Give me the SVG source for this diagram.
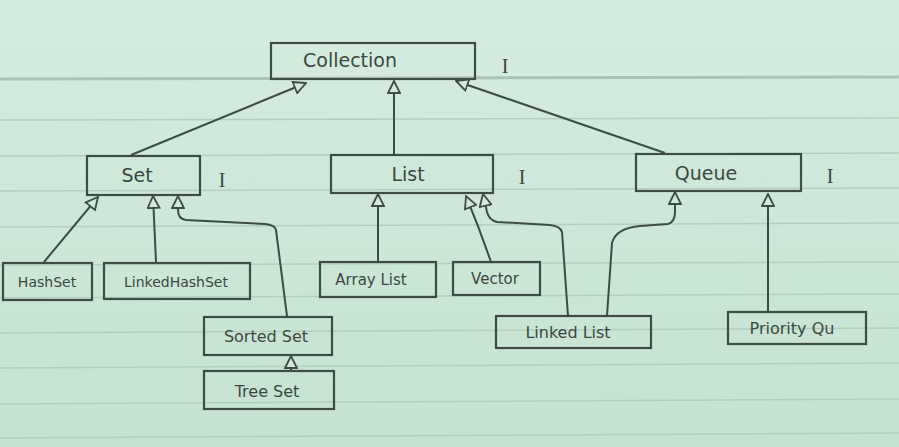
<svg xmlns="http://www.w3.org/2000/svg" width="899" height="447" viewBox="0 0 899 447">
<defs>
<linearGradient id="bg" x1="0" y1="0" x2="0" y2="1">
<stop offset="0" stop-color="#d6ece0"/>
<stop offset="1" stop-color="#c6e2d0"/>
</linearGradient>
<marker id="tri" viewBox="0 0 14 14" refX="13" refY="7" markerWidth="14" markerHeight="14" markerUnits="userSpaceOnUse" orient="auto">
<path d="M1,1 L13,7 L1,13 Z" fill="#d2e9db" stroke="#3e4c46" stroke-width="1.8"/>
</marker>
<style>
.box{fill:none;stroke:#3e4c46;stroke-width:2.2}
.t{font-family:"DejaVu Sans","Liberation Sans",sans-serif;fill:#3a4842;font-size:17px}
.i{font-family:"Liberation Serif",serif;fill:#3a4842;font-size:20px}
.c{fill:none;stroke:#3e4c46;stroke-width:2;marker-end:url(#tri)}
.rule{stroke:#b4cfbf;stroke-width:1.5}
</style>
</defs>
<rect width="899" height="447" fill="url(#bg)"/>
<g id="rules">
<line class="rule" x1="0" y1="79" x2="899" y2="77" style="stroke:#a9c4b4;stroke-width:3"/>
<line class="rule" x1="0" y1="120" x2="899" y2="118"/>
<line class="rule" x1="0" y1="156" x2="899" y2="153"/>
<line class="rule" x1="0" y1="191" x2="899" y2="188"/>
<line class="rule" x1="0" y1="227" x2="899" y2="223"/>
<line class="rule" x1="0" y1="265" x2="899" y2="262"/>
<line class="rule" x1="0" y1="298" x2="899" y2="294"/>
<line class="rule" x1="0" y1="333" x2="899" y2="328"/>
<line class="rule" x1="0" y1="368" x2="899" y2="363"/>
<line class="rule" x1="0" y1="404" x2="899" y2="399"/>
<line class="rule" x1="0" y1="438" x2="899" y2="433"/>
</g>
<g id="connectors">
<path class="c" d="M131,155 L306,83"/>
<path class="c" d="M394,155 L394,81"/>
<path class="c" d="M665,153 L456,81"/>
<path class="c" d="M44,262 L98,197"/>
<path class="c" d="M156,262 L153,196"/>
<path class="c" d="M287,316 L276,230 Q275,225 265,224 L186,220 Q178,219 178,210 L178,196"/>
<path class="c" d="M291,370 L291,356"/>
<path class="c" d="M378,262 L378,194"/>
<path class="c" d="M491,262 Q480,230 466,196"/>
<path class="c" d="M568,316 L562,232 Q560,226 550,225 L497,222 Q489,220 487,212 L483,194"/>
<path class="c" d="M607,316 L612,243 Q616,228 640,226 L668,224 Q675,222 675,212 L675,192"/>
<path class="c" d="M768,311 L768,194"/>
</g>
<g id="collection">
<rect class="box" x="271" y="43" width="204" height="36"/>
<text class="t" x="350" y="67" text-anchor="middle" style="font-size:19px">Collection</text>
<text class="i" x="505" y="73" text-anchor="middle">I</text>
</g>
<g id="set">
<rect class="box" x="87" y="156" width="113" height="39"/>
<text class="t" x="137" y="182" text-anchor="middle" style="font-size:19px">Set</text>
<text class="i" x="222" y="187" text-anchor="middle">I</text>
</g>
<g id="list">
<rect class="box" x="331" y="155" width="162" height="38"/>
<text class="t" x="408" y="181" text-anchor="middle" style="font-size:19px">List</text>
<text class="i" x="522" y="184" text-anchor="middle">I</text>
</g>
<g id="queue">
<rect class="box" x="636" y="154" width="165" height="37"/>
<text class="t" x="706" y="180" text-anchor="middle" style="font-size:19px">Queue</text>
<text class="i" x="830" y="183" text-anchor="middle">I</text>
</g>
<g id="hashset">
<rect class="box" x="3" y="263" width="89" height="37"/>
<text class="t" x="47" y="287" text-anchor="middle" style="font-size:14px">HashSet</text>
</g>
<g id="linkedhashset">
<rect class="box" x="104" y="263" width="146" height="36"/>
<text class="t" x="176" y="287" text-anchor="middle" style="font-size:14px">LinkedHashSet</text>
</g>
<g id="sortedset">
<rect class="box" x="204" y="317" width="128" height="38"/>
<text class="t" x="266" y="342" text-anchor="middle" style="font-size:16px">Sorted Set</text>
</g>
<g id="treeset">
<rect class="box" x="204" y="371" width="130" height="38"/>
<text class="t" x="267" y="397" text-anchor="middle" style="font-size:16px">Tree Set</text>
</g>
<g id="arraylist">
<rect class="box" x="320" y="262" width="116" height="35"/>
<text class="t" x="371" y="285" text-anchor="middle" style="font-size:15px">Array List</text>
</g>
<g id="vector">
<rect class="box" x="453" y="262" width="87" height="33"/>
<text class="t" x="495" y="284" text-anchor="middle" style="font-size:15px">Vector</text>
</g>
<g id="linkedlist">
<rect class="box" x="496" y="316" width="155" height="32"/>
<text class="t" x="568" y="338" text-anchor="middle" style="font-size:16px">Linked List</text>
</g>
<g id="priorityqueue">
<rect class="box" x="728" y="312" width="138" height="32"/>
<text class="t" x="792" y="334" text-anchor="middle" style="font-size:16px">Priority Qu</text>
</g>
</svg>
